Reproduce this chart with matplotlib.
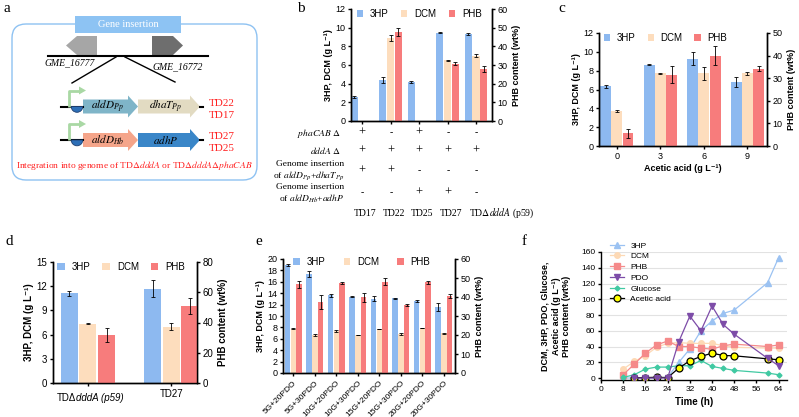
import matplotlib.pyplot as plt
import numpy as np
from matplotlib.patches import Polygon, Rectangle, FancyBboxPatch, Wedge

plt.rcParams.update({
    'font.family': ['Liberation Sans', 'DejaVu Sans'],
    'font.size': 6.5,
    'mathtext.fontset': 'custom',
    'mathtext.rm': 'Liberation Sans',
    'mathtext.it': 'Liberation Sans:italic',
    'mathtext.bf': 'Liberation Sans:bold',
    'axes.linewidth': 1.0,
    'xtick.major.width': 1.0,
    'ytick.major.width': 1.0,
    'xtick.major.size': 2.5,
    'ytick.major.size': 2.5,
    'xtick.major.pad': 2,
    'ytick.major.pad': 1.5,
})
SERIF = ['Liberation Serif', 'DejaVu Serif']

C_HP = '#8DB9F0'
C_DCM = '#FDDDBD'
C_PHB = '#F77C7C'

# ---- data: panel b (strains)
b_strains = ['TD17', 'TD22', 'TD25', 'TD27', 'TD$\\Delta$$dddA$ (p59)']
b_hp = [2.55, 4.4, 4.2, 9.45, 9.3]
b_hp_err = [0.1, 0.3, 0.1, 0.05, 0.1]
b_dcm = [0, 8.9, 0, 6.5, 7.0]
b_dcm_err = [0, 0.35, 0, 0.08, 0.15]
b_phb = [0, 47.5, 0, 30.8, 28.0]
b_phb_err = [0, 2.2, 0, 0.8, 1.7]
b_phaCAB = ['+', '-', '+', '-', '-']
b_dddA = ['+', '+', '+', '+', '+']
b_ins_pp = ['+', '+', '-', '-', '-']
b_ins_hb = ['-', '-', '+', '+', '-']

# ---- data: panel c (acetic acid)
c_acetic = ['0', '3', '6', '9']
c_hp = [6.35, 8.65, 9.25, 6.8]
c_hp_err = [0.15, 0.1, 0.7, 0.5]
c_dcm = [3.7, 7.7, 7.7, 7.7]
c_dcm_err = [0.08, 0.07, 0.7, 0.15]
c_phb = [5.6, 31.5, 40.0, 34.2]
c_phb_err = [2.0, 3.7, 4.3, 1.2]

# ---- data: panel d
d_strains = ['TD\u0394', 'TD27']
d_hp = [11.1, 11.7]
d_hp_err = [0.35, 1.1]
d_dcm = [7.35, 7.0]
d_dcm_err = [0.05, 0.4]
d_phb = [31.7, 50.7]
d_phb_err = [4.8, 5.2]

# ---- data: panel e (glucose + PDO feeding)
e_cond = ['5G+20PDO', '5G+30PDO', '10G+20PDO', '10G+30PDO',
          '15G+20PDO', '15G+30PDO', '20G+20PDO', '20G+30PDO']
e_hp = [18.9, 17.4, 13.6, 13.4, 13.0, 13.1, 12.6, 11.6]
e_hp_err = [0.2, 0.5, 0.3, 0.15, 0.45, 0.1, 0.2, 0.7]
e_dcm = [7.8, 6.7, 7.4, 6.7, 7.7, 6.9, 7.9, 7.0]
e_dcm_err = [0.15, 0.15, 0.15, 0.05, 0.05, 0.15, 0.05, 0.1]
e_phb = [46.8, 37.2, 47.4, 39.9, 48.0, 35.7, 47.7, 40.5]
e_phb_err = [1.8, 3.6, 0.7, 2.4, 1.8, 0.6, 0.9, 1.2]

# ---- data: panel f (fed-batch)
f_time = [8, 12, 16, 20, 24, 28, 32, 36, 40, 44, 48, 60, 64]
f_hp = [0, 0, 0, 0, 1, 19.8, 37, 60, 72.4, 82, 86.3, 121, 153]
f_dcm = [11.4, 21, 28.6, 39, 44, 45, 44, 44, 44, 41, 39, 38, 38]
f_phb = [4.2, 17.7, 31.6, 42, 47, 40, 40, 38, 36.6, 41, 43, 40, 42]
f_glc = [0.8, 4.2, 11.4, 13.9, 13.9, 15.6, 15.6, 22.3, 14.7, 12.2, 9.7, 6.3, 4.2]
f_time2 = [12, 16, 20, 24, 28, 32, 36, 40, 44, 48, 60, 64]
f_pdo = [0, 0, 0, 0, 46, 78.7, 60, 91.4, 68, 55.6, 25, 15.6]
f_ace = [0.5, 0.5, 1, 0.5, 12.6, 21.9, 27.4, 31.6, 28.6, 28.2, 24.4, 23.2]

W, H = 799, 417
fig = plt.figure(figsize=(W / 100, H / 100), dpi=100)


def add_ax(x0, y0, x1, y1):
    return fig.add_axes([x0 / W, 1 - y1 / H, (x1 - x0) / W, (y1 - y0) / H])


def ftext(x, y, s, **kw):
    fig.text(x / W, 1 - y / H, s, **kw)


ylab = 'g L\u207b\u00b9'

# panel letters
for lab, (x, y) in {'a': (3, 8), 'b': (297, 8), 'c': (558, 9),
                    'd': (6, 242), 'e': (255, 242), 'f': (522, 242)}.items():
    ftext(x, y, lab, family=SERIF, fontsize=11, va='center', ha='left')

# ================= panel a (schematic)
axa = add_ax(0, 0, 265, 210)
axa.set_xlim(0, 265)
axa.set_ylim(210, 0)
axa.axis('off')

axa.add_patch(FancyBboxPatch((12, 24), 245, 156, boxstyle='round,pad=0,rounding_size=14',
                             fc='none', ec='#8EC2F2', lw=1.0))
axa.add_patch(Rectangle((75, 16), 106, 17, fc='#8DC3F3', ec='none'))
axa.text(128, 24.5, 'Gene insertion', color='white', family=SERIF, fontsize=7.5, ha='center', va='center')

axa.add_patch(Polygon([(66, 45.5), (77, 36), (97, 36), (97, 55), (77, 55)], fc='#A6A6A6', ec='none'))
axa.add_patch(Polygon([(152, 36), (173, 36), (183, 45.5), (173, 55), (152, 55)], fc='#6E6E6E', ec='none'))
axa.plot([48, 208], [56, 56], color='k', lw=1.5)
axa.text(70, 63, 'GME_16777', family=SERIF, style='italic', fontsize=7, ha='center', va='center')
axa.text(178, 67, 'GME_16772', family=SERIF, style='italic', fontsize=7, ha='center', va='center')
axa.plot([116, 72], [57, 83], color='k', lw=1.0)
axa.plot([125, 175], [57, 82], color='k', lw=1.0)


def gene(x0, x1, yc, color, label):
    hb, hh, head = 7, 11, 10
    xh = x1 - head
    axa.add_patch(Polygon([(x0, yc - hb), (xh, yc - hb), (xh, yc - hh), (x1, yc), (xh, yc + hh),
                           (xh, yc + hb), (x0, yc + hb)], fc=color, ec='none'))
    axa.text((x0 + xh) / 2 + 2, yc, label, family=SERIF, fontsize=8, ha='center', va='center',
             math_fontfamily='stix')


for yc, c1, l1, c2, l2, t1, t2 in [(106.5, '#7FB5C8', '$aldD_{Pp}$', '#E2DBC2', '$dhaT_{Pp}$', 'TD22', 'TD17'),
                                    (140, '#F5A58A', '$aldD_{Hb}$', '#3A86C8', '$adhP$', 'TD27', 'TD25')]:
    axa.plot([61, 83], [yc, yc], color='k', lw=1.5)
    axa.plot([200, 203], [yc, yc], color='k', lw=1.5)
    axa.plot([69, 69, 80], [yc, yc - 16, yc - 16], color='#A9D8A4', lw=2, solid_capstyle='butt')
    axa.add_patch(Polygon([(79, yc - 20), (86, yc - 16), (79, yc - 12)], fc='#A9D8A4', ec='none'))
    axa.add_patch(Wedge((77, yc), 5.8, 0, 180, fc='#2D6FB7', ec='#1F3F70', lw=0.6, zorder=3))
    gene(83, 138, yc, c1, l1)
    gene(138, 200, yc, c2, l2)
    axa.text(222, yc - 3.5, t1, color='#FF2020', family=SERIF, fontsize=8, ha='center', va='center')
    axa.text(222, yc + 8.5, t2, color='#FF2020', family=SERIF, fontsize=8, ha='center', va='center')

axa.text(134, 165, 'Integration into genome of TD$\\Delta$$dddA$ or TD$\\Delta$$dddA\\Delta phaCAB$',
         color='#FF2020', family=SERIF, fontsize=6.8, ha='center', va='center', math_fontfamily='stix')


# ================= bar panels
def bar_panel(ax, hp, hp_e, dcm, dcm_e, phb, phb_e, w, off):
    x = np.arange(len(hp))
    ek = dict(fmt='none', ecolor='k', elinewidth=0.6, capsize=1.5, capthick=0.6, zorder=3)
    h1 = ax.bar(x - off, hp, w, color=C_HP, zorder=2, label='3HP')
    ax.errorbar(x - off, hp, yerr=hp_e, **ek)
    h2 = ax.bar(x, dcm, w, color=C_DCM, zorder=2, label='DCM')
    ax.errorbar(x, dcm, yerr=dcm_e, **ek)
    ax2 = ax.twinx()
    h3 = ax2.bar(x + off, phb, w, color=C_PHB, zorder=2, label='PHB')
    ax2.errorbar(x + off, phb, yerr=phb_e, **ek)
    for a in (ax, ax2):
        a.spines['top'].set_visible(False)
    ax.set_xticks(x)
    return ax2, [h1, h2, h3]


def legend(ax, handles, anchor, fs=7, cs=1.1, hl=0.65):
    ax.legend(handles=handles, ncol=3, loc='upper left', bbox_to_anchor=anchor, frameon=False,
              fontsize=fs, handlelength=hl, handleheight=hl, handletextpad=0.7,
              columnspacing=cs, borderpad=0, borderaxespad=0)


# ---- b
axb = add_ax(351, 9, 492, 121)
axb2, hb = bar_panel(axb, b_hp, b_hp_err, b_dcm, b_dcm_err, b_phb, b_phb_err, 0.25, 0.27)
axb.set_xlim(-0.39, 4.56)
axb.set_ylim(0, 12)
axb.set_yticks(range(0, 13, 2))
axb2.set_ylim(0, 60)
axb2.set_yticks(range(0, 61, 10))
axb.set_xticklabels([])
axb.set_ylabel('3HP, DCM (%s)' % ylab, fontweight='bold', labelpad=2)
axb2.set_ylabel('PHB content (wt%)', fontweight='bold', labelpad=3)
legend(axb2, hb, (0.04, 1.0), cs=1.3)

xs = [362, 391, 419, 448, 476]
rows = [(133, b_phaCAB), (151, b_dddA), (171, b_ins_pp), (193, b_ins_hb)]
for y, vals in rows:
    for x, v in zip(xs, vals):
        ftext(x, y, v, family=SERIF, fontsize=9 if v == '+' else 7, ha='center', va='center')
st = dict(family=SERIF, fontsize=6.8, ha='right', va='center', math_fontfamily='stix')
ftext(341, 133, '$phaCAB$ $\\Delta$', **st)
ftext(341, 151, '$dddA$ $\\Delta$', **st)
ftext(344, 164, 'Genome insertion', **st)
ftext(344, 176, 'of $aldD_{Pp}$+$dhaT_{Pp}$', **st)
ftext(344, 187, 'Genome insertion', **st)
ftext(344, 199, 'of $aldD_{Hb}$+$adhP$', **st)
for x, s in zip(xs, b_strains):
    if x == xs[-1]:
        ftext(469, 213, s, family=SERIF, fontsize=7, ha='left', va='center', math_fontfamily='stix')
    else:
        ftext(x + 3, 213, s, family=SERIF, fontsize=7, ha='center', va='center')

# ---- c
axc = add_ax(599, 33, 767, 146)
axc2, hc = bar_panel(axc, c_hp, c_hp_err, c_dcm, c_dcm_err, c_phb, c_phb_err, 0.25, 0.257)
axc.set_xlim(-0.41, 3.45)
axc.set_ylim(0, 12)
axc.set_yticks(range(0, 13, 2))
axc2.set_ylim(0, 50)
axc2.set_yticks(range(0, 51, 10))
axc.set_xticklabels(c_acetic)
axc.set_xlabel('Acetic acid (%s)' % ylab, fontweight='bold', labelpad=2)
axc.set_ylabel('3HP, DCM (%s)' % ylab, fontweight='bold', labelpad=2)
axc2.set_ylabel('PHB content (wt%)', fontweight='bold', labelpad=3)
legend(axc2, hc, (0.03, 1.0), cs=1.2)

# ---- d
axd = add_ax(53, 262, 197, 383)
axd2, hd = bar_panel(axd, d_hp, d_hp_err, d_dcm, d_dcm_err, d_phb, d_phb_err, 0.205, 0.223)
axd.set_xlim(-0.42, 1.31)
axd.set_ylim(0, 15)
axd.set_yticks(range(0, 16, 3))
axd2.set_ylim(0, 80)
axd2.set_yticks(range(0, 81, 20))
axd.set_xticklabels(['', 'TD27'], fontsize=7)
axd.text(-0.145, -0.08, 'TD\u0394', transform=axd.get_xaxis_transform(), ha='right', va='top', fontsize=7)
axd.text(-0.145, -0.08, 'dddA (p59)', transform=axd.get_xaxis_transform(), ha='left', va='top',
         fontsize=7, style='italic')
axd.set_ylabel('3HP, DCM (%s)' % ylab, fontweight='bold', labelpad=2, fontsize=7)
axd2.set_ylabel('PHB content (wt%)', fontweight='bold', labelpad=3, fontsize=7)
axd.tick_params(labelsize=7)
axd2.tick_params(labelsize=7)
legend(axd2, hd, (0.03, 1.0), fs=7, cs=1.2, hl=0.8)

# ---- e
axe = add_ax(283, 259, 455, 373)
axe2, he = bar_panel(axe, e_hp, e_hp_err, e_dcm, e_dcm_err, e_phb, e_phb_err, 0.25, 0.27)
axe.set_xlim(-0.48, 7.52)
axe.set_ylim(0, 20)
axe.set_yticks(range(0, 21, 2))
axe2.set_ylim(0, 60)
axe2.set_yticks(range(0, 61, 10))
axe.set_xticklabels(e_cond, rotation=45, ha='right', rotation_mode='anchor', fontsize=6)
axe.set_ylabel('3HP, DCM (%s)' % ylab, fontweight='bold', labelpad=2)
axe2.set_ylabel('PHB content (wt%)', fontweight='bold', labelpad=3)
legend(axe2, he, (0.06, 1.02), cs=1.9)

# ---- f
axf = add_ax(601, 252, 787, 380)
axf.set_xlim(0, 67)
axf.set_ylim(-2.5, 160)
axf.set_xticks(range(0, 65, 8))
axf.set_yticks(range(0, 161, 20))
for v in range(20, 161, 20):
    axf.axhline(v, color='#E2E2E2', lw=0.8, zorder=0)
for s in ('top', 'right'):
    axf.spines[s].set_visible(False)
mk = dict(lw=0.9, markersize=4)
axf.plot(f_time, f_hp, color='#9BC2F2', marker='^', label='3HP', **mk)
axf.plot(f_time, f_dcm, color='#FDD9B5', marker='o', label='DCM', **mk)
axf.plot(f_time, f_phb, color='#F58A8A', marker='s', label='PHB', **mk)
axf.plot(f_time, f_glc, color='#40C9A2', marker='D', markersize=2.5, lw=0.9, label='Glucose', zorder=3)
axf.plot(f_time2, f_ace, color='k', marker='o', mfc='#FFFF00', mec='k', mew=0.9, markersize=5, lw=0.9,
         label='Acetic acid', zorder=3)
axf.plot(f_time2, f_pdo, color='#7D4CA8', marker='v', label='PDO', zorder=4, **mk)
hl, ll = axf.get_legend_handles_labels()
order = ['3HP', 'DCM', 'PHB', 'PDO', 'Glucose', 'Acetic acid']
hl = [hl[ll.index(o)] for o in order]
axf.legend(hl, order, loc='upper left', bbox_to_anchor=(0.05, 1.08), frameon=False, fontsize=6,
           handlelength=1.6, handletextpad=0.8, labelspacing=0.35, borderpad=0, borderaxespad=0)
axf.tick_params(labelsize=6)
axf.set_xlabel('Time (h)', fontweight='bold', fontsize=7, labelpad=3)
axf.set_ylabel('DCM, 3HP, PDO, Glucose,\nAcetic acid (%s)\nPHB content (wt%%)' % ylab,
               fontweight='bold', fontsize=6.5, labelpad=7, linespacing=1.25)

fig.savefig('out.png', dpi=100)
